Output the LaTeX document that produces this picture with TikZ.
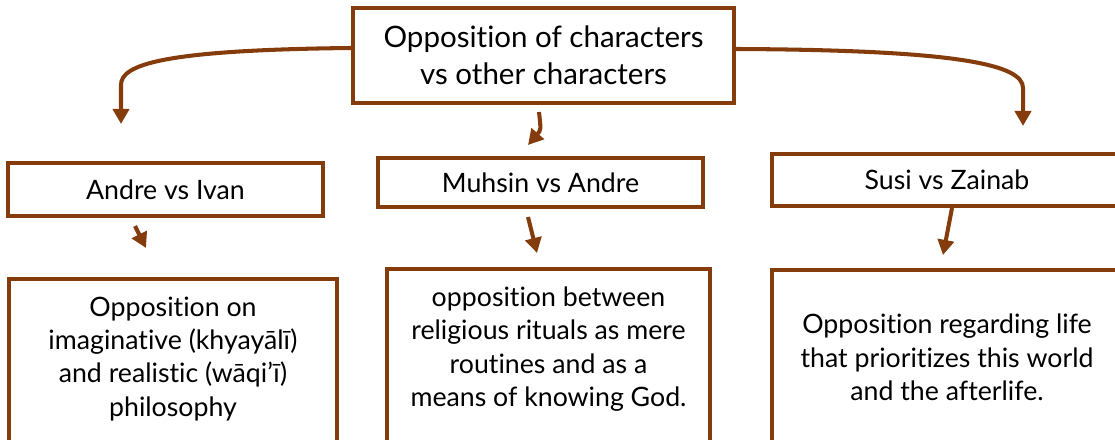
\documentclass[tikz,border=0pt]{standalone}
\usepackage{fontspec}
\setmainfont{Lato}[Ligatures=CommonOff]
\usetikzlibrary{arrows.meta,positioning}
\definecolor{oppBrown}{HTML}{843C0C}

\begin{document}
\begin{tikzpicture}[font=\fontsize{7.6}{9.5}\selectfont,
  oppbox/.style={rectangle, draw=oppBrown, line width=1.15pt, align=center, inner sep=2pt},
  bigbox/.style={oppbox, anchor=north, inner ysep=5pt, text depth=40pt},
  opparr/.style={-{Triangle[length=4.3pt,width=4.6pt]}, line width=1.15pt, color=oppBrown}]
  \useasboundingbox (0,0) rectangle (11.15,-4.39);
  \node[oppbox, minimum width=3.81cm, minimum height=0.95cm, font=\fontsize{8.4}{10.4}\selectfont] (top) at (5.435,-0.555)
    {Opposition of characters\\vs other characters};
  \node[oppbox, minimum width=3.15cm, minimum height=0.53cm] (ai) at (1.655,-1.895) {Andre vs Ivan};
  \node[oppbox, minimum width=3.25cm, minimum height=0.49cm] (ma) at (5.405,-1.825) {\raisebox{-1pt}{Muhsin vs Andre}};
  \node[oppbox, minimum width=3.50cm, minimum height=0.52cm] (sz) at (9.47,-1.80) {Susi vs Zainab};
  \node[bigbox, minimum width=3.28cm] (oai) at (1.73,-2.77)
    {Opposition on\\imaginative (khyayālī)\\and realistic (wāqi’ī)\\philosophy};
  \node[bigbox, minimum width=3.23cm] (oma) at (5.485,-2.67)
    {opposition between\\religious rituals as mere\\routines and as a\\means of knowing God.};
  \node[bigbox, minimum width=3.50cm, inner ysep=12.5pt] (osz) at (9.47,-2.68)
    {Opposition regarding life\\that prioritizes this world\\and the afterlife.};
  % free ends of the connectors
  \coordinate (tipL) at (1.21,-1.24);
  \coordinate (tipR) at (10.23,-1.26);
  \coordinate (midS) at (5.39,-1.12);
  \coordinate (tipM) at (5.28,-1.45);
  \coordinate (aiS) at (1.35,-2.26);
  \coordinate (aiT) at (1.46,-2.48);
  \coordinate (maS) at (5.28,-2.17);
  \coordinate (maT) at (5.37,-2.53);
  \coordinate (szS) at (9.52,-2.08);
  \coordinate (szT) at (9.43,-2.55);
  \draw[opparr] ([yshift=0.075cm]top.west) .. controls (1.60,-0.50) and (1.21,-0.65) .. (1.21,-0.85) -- (tipL);
  \draw[opparr] ([yshift=0.065cm]top.east) .. controls (9.60,-0.50) and (10.23,-0.65) .. (10.23,-0.88) -- (tipR);
  \draw[opparr] (midS) .. controls (5.41,-1.30) .. (tipM);
  \draw[opparr] (aiS) -- (aiT);
  \draw[opparr] (maS) -- (maT);
  \draw[opparr] (szS) -- (szT);
\end{tikzpicture}
\end{document}
